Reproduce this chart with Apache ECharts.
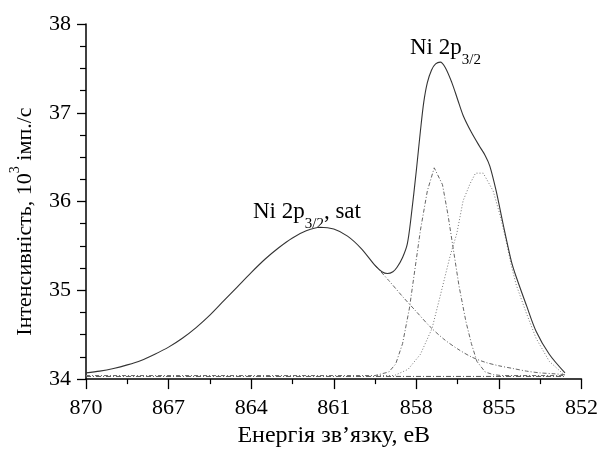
<!DOCTYPE html>
<html>
<head>
<meta charset="utf-8">
<script src="https://cdn.jsdelivr.net/npm/echarts@6/dist/echarts.min.js"></script>
<style>html,body{margin:0;padding:0;background:#fff}#c{width:601px;height:453px}</style>
</head>
<body>
<div id="c"></div>
<script>
// ---- data ----
const xTicks = [870, 867, 864, 861, 858, 855, 852];
const yTicks = [34, 35, 36, 37, 38];

const totalE = [870, 869.5, 869, 868.5, 868, 867.5, 867, 866.5, 866, 865.5, 865, 864.5, 864, 863.5, 863, 862.5, 862, 861.5, 861, 860.5, 860, 859.5, 859.25, 859.05, 858.85, 858.7, 858.5, 858.33, 858.2, 858.0, 857.85, 857.73, 857.6, 857.45, 857.3, 857.13, 856.95, 856.71, 856.5, 856.3, 856.0, 855.7, 855.5, 855.33, 855.1, 854.85, 854.55, 854.37, 854.0, 853.65, 853.17, 852.6];
const totalI = [34.07, 34.09, 34.12, 34.16, 34.21, 34.28, 34.36, 34.46, 34.58, 34.72, 34.88, 35.04, 35.20, 35.35, 35.48, 35.59, 35.67, 35.71, 35.69, 35.61, 35.47, 35.28, 35.21, 35.19, 35.21, 35.26, 35.37, 35.52, 35.80, 36.35, 36.80, 37.12, 37.34, 37.48, 37.55, 37.57, 37.51, 37.34, 37.15, 36.97, 36.78, 36.62, 36.52, 36.40, 36.12, 35.75, 35.33, 35.15, 34.83, 34.54, 34.28, 34.07];

const satE = [859.5, 859.0, 858.5, 858.0, 857.5, 857.0, 856.5, 856.0, 855.5, 855.0, 854.5, 854.0, 853.5, 853.0, 852.6];
const satI = [35.28, 35.11, 34.93, 34.76, 34.59, 34.45, 34.34, 34.25, 34.19, 34.15, 34.12, 34.09, 34.07, 34.06, 34.05];

const p1E = [870, 859.5, 859.0, 858.75, 858.5, 858.25, 858.0, 857.85, 857.6, 857.35, 857.05, 856.85, 856.65, 856.45, 856.2, 856.0, 855.8, 855.5, 855.2, 854.9, 852.6];
const p1I = [34.04, 34.04, 34.08, 34.17, 34.40, 34.80, 35.35, 35.68, 36.12, 36.38, 36.19, 35.85, 35.45, 35.05, 34.65, 34.40, 34.20, 34.08, 34.05, 34.04, 34.04];

const p2E = [870, 858.8, 858.3, 857.85, 857.43, 857.13, 856.77, 856.53, 856.3, 856.05, 855.85, 855.57, 855.21, 854.97, 854.73, 854.55, 854.37, 854.0, 853.65, 853.17, 852.6];
const p2I = [34.04, 34.04, 34.11, 34.28, 34.57, 34.94, 35.39, 35.64, 36.01, 36.20, 36.32, 36.32, 36.12, 35.86, 35.55, 35.28, 35.06, 34.74, 34.46, 34.20, 34.04];

const baseE = [870, 852.6];
const baseI = [34.03, 34.03];

const zip = (a, b) => a.map((v, i) => [v, b[i]]);
const FONT = "'Liberation Serif', 'Times New Roman', serif";

const chart = echarts.init(document.getElementById('c'), null, {renderer: 'canvas'});
chart.setOption({
  backgroundColor: '#fff',
  animation: false,
  grid: {left: 83, right: 19, top: 24, bottom: 68},
  xAxis: {
    type: 'value', min: 852, max: 870, interval: 3, inverse: true,
    name: 'Енергія зв’язку, еВ', nameLocation: 'middle', nameGap: 43,
    nameTextStyle: {fontFamily: FONT, fontSize: 24, color: '#000'},
    axisLine: {show: true, onZero: false, lineStyle: {color: '#000', width: 1.5}},
    axisTick: {show: true, inside: false, length: 10, lineStyle: {color: '#000', width: 1.3}},
    minorTick: {show: true, splitNumber: 2, length: 5, lineStyle: {color: '#000', width: 1.2}},
    axisLabel: {fontFamily: FONT, fontSize: 22, color: '#000', margin: 18,
      formatter: v => xTicks.includes(v) ? String(v) : ''},
    splitLine: {show: false}
  },
  yAxis: {
    type: 'value', min: 34, max: 38, interval: 1,
    name: '{a|Інтенсивність, 10}{s|3}{a| імп./с}', nameLocation: 'middle', nameGap: 50,
    nameTextStyle: {fontFamily: FONT, fontSize: 22, color: '#000', padding: [0, 40, 0, 0],
      rich: {a: {fontFamily: FONT, fontSize: 22, color: '#000', verticalAlign: 'bottom', lineHeight: 28},
             s: {fontFamily: FONT, fontSize: 14, color: '#000', verticalAlign: 'top', lineHeight: 28}}},
    axisLine: {show: true, onZero: false, lineStyle: {color: '#000', width: 1.5}},
    axisTick: {show: true, inside: false, length: 9, lineStyle: {color: '#000', width: 1.3}},
    minorTick: {show: true, splitNumber: 4, length: 6, lineStyle: {color: '#000', width: 1.2}},
    axisLabel: {fontFamily: FONT, fontSize: 22, color: '#000', margin: 15,
      formatter: v => yTicks.includes(v) ? String(v) : ''},
    splitLine: {show: false}
  },
  series: [
    {type: 'line', data: zip(baseE, baseI), symbol: 'none', lineStyle: {color: '#555', width: 1, type: [5, 2, 1, 2]}},
    {type: 'line', data: zip(p1E, p1I), symbol: 'none', lineStyle: {color: '#666', width: 1, type: [4, 2, 1, 2]}},
    {type: 'line', data: zip(p2E, p2I), symbol: 'none', lineStyle: {color: '#777', width: 1, type: [1, 2]}},
    {type: 'line', data: zip(satE, satI), symbol: 'none', smooth: 0.3, lineStyle: {color: '#666', width: 1, type: [4, 2, 1, 2]}},
    {type: 'line', data: zip(totalE, totalI), symbol: 'none', smooth: 0.3, lineStyle: {color: '#333', width: 1.1}}
  ],
  graphic: [
    {type: 'text', x: 410, y: 36, style: {text: '{a|Ni 2p}{s|3/2}', rich: {
      a: {fontFamily: FONT, fontSize: 23, color: '#000', verticalAlign: 'top', lineHeight: 32},
      s: {fontFamily: FONT, fontSize: 15, color: '#000', verticalAlign: 'bottom', lineHeight: 32}}}},
    {type: 'text', x: 253, y: 200, style: {text: '{a|Ni 2p}{s|3/2}{a|, sat}', rich: {
      a: {fontFamily: FONT, fontSize: 23, color: '#000', verticalAlign: 'top', lineHeight: 32},
      s: {fontFamily: FONT, fontSize: 15, color: '#000', verticalAlign: 'bottom', lineHeight: 32}}}}
  ]
});
</script>
</body>
</html>
